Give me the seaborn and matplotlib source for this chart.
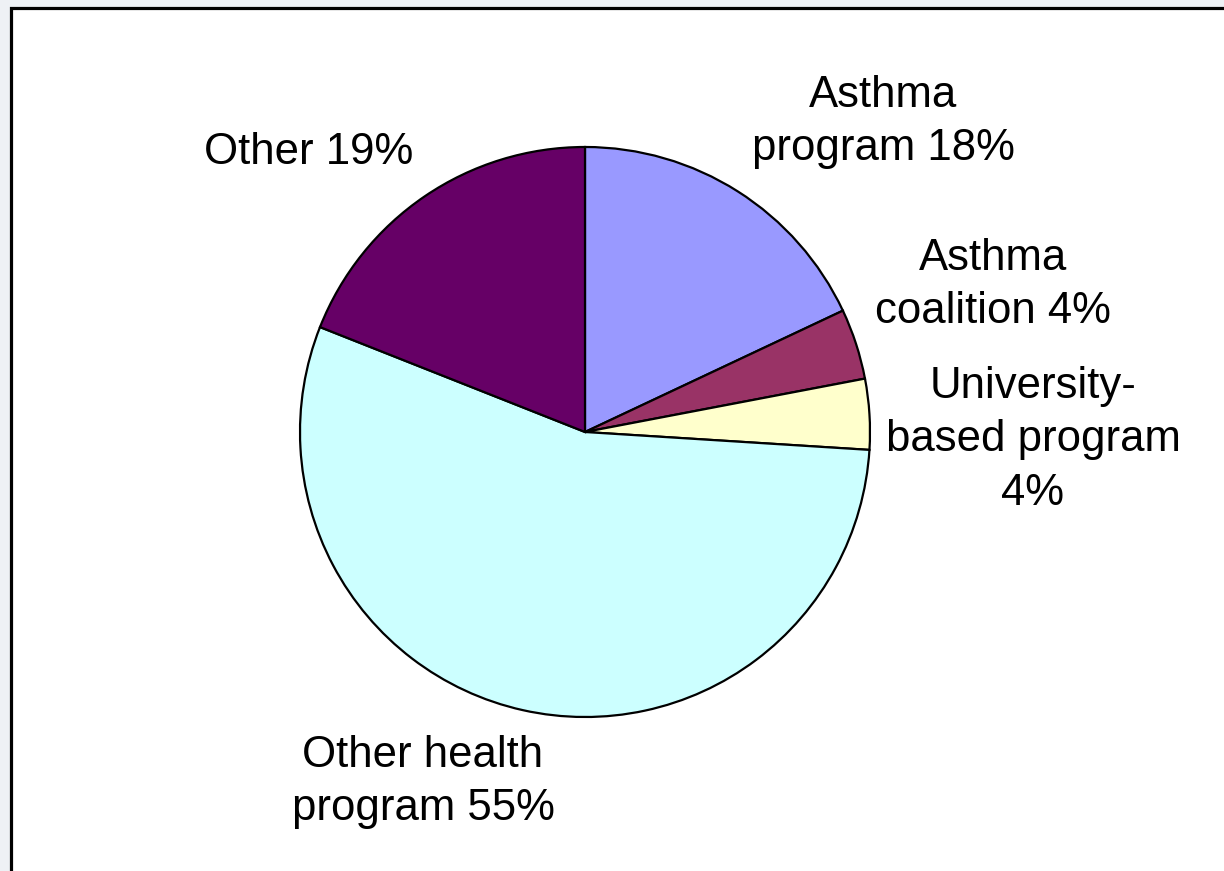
import matplotlib
matplotlib.use("Agg")
import matplotlib.pyplot as plt
from matplotlib.patches import Rectangle
import seaborn as sns

# Funding sources and their shares (%)
categories = ["Asthma program", "Asthma coalition", "University-based program",
              "Other health program", "Other"]
shares = [18, 4, 4, 55, 19]
slice_labels = ["Asthma\nprogram 18%", "Asthma\ncoalition 4%",
                "University-\nbased program\n4%", "Other health\nprogram 55%",
                "Other 19%"]
colors = ["#9999FF", "#993366", "#FFFFCC", "#CCFFFF", "#660066"]

sns.set_theme(style="white")
plt.rcParams["font.family"] = ["Liberation Sans", "DejaVu Sans"]

W, H = 1224, 871
fig = plt.figure(figsize=(W / 100, H / 100), dpi=100)
fig.patch.set_facecolor("#eef1f5")
ax = fig.add_axes([0, 0, 1, 1])

# White chart area with black frame
ax.add_patch(Rectangle((11, -20), W + 40, H - 8 + 20, facecolor="white",
                       edgecolor="black", linewidth=2.3, zorder=0))

cx, cy, r = 585, H - 432, 285
wedges, _ = ax.pie(shares, colors=colors, startangle=90, counterclock=False,
                   center=(cx, cy), radius=r, frame=True,
                   wedgeprops=dict(edgecolor="black", linewidth=1.6))
ax.set_xlim(0, W)
ax.set_ylim(0, H)
ax.set_aspect("equal")
ax.axis("off")

# Label anchor points (centre of each text block)
label_pos = [(883, H - 122), (993, H - 285), (1033, H - 440),
             (423, H - 782), (309, H - 152)]
for text, (x, y) in zip(slice_labels, label_pos):
    ax.text(x, y, text, ha="center", va="center", fontsize=31.5,
            color="black", linespacing=1.38)

fig.savefig("out.png", dpi=100, facecolor=fig.get_facecolor())
